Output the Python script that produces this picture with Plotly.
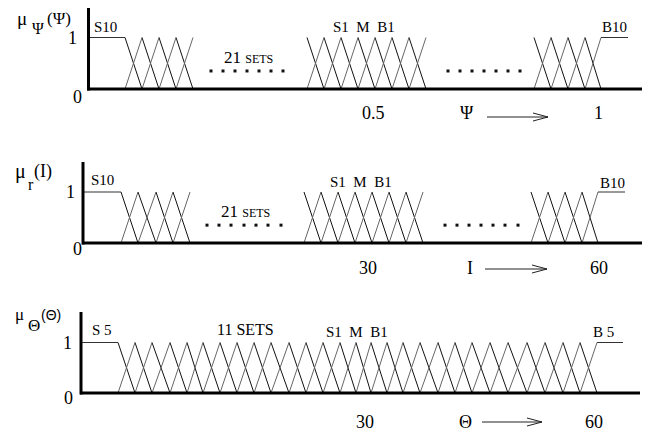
import plotly.graph_objects as go

W, H = 650, 436          # browser window
OFF = 8                  # default page margin around the plot div
FONT = "Liberation Serif, Times New Roman, serif"

# ---------------- data (x in diagram units, membership 0..1) ----------------
# vertices of the triangular partitions (peak of one set = foot of neighbours)
psi_left_vertices = [125, 142, 159, 176, 193]
psi_mid_vertices = [307, 324, 341, 358, 375, 392, 409, 426]
psi_right_vertices = [534, 551, 568, 585, 601]

cur_left_vertices = [121, 138, 156, 173, 190]
cur_mid_vertices = [304, 321, 338, 355, 372, 389, 406, 423]
cur_right_vertices = [531, 548, 565, 582, 598]

theta_vertices = [118, 135, 152, 170, 187, 203, 220, 237, 254, 271, 289, 306,
                  323, 340, 356, 371, 387, 403, 420, 438, 455, 472, 490, 508,
                  527, 545, 563, 580, 597]

# shoulder (saturated) sets: start of left plateau, end of right plateau
psi_shoulder_ends = [89, 628]
cur_shoulder_ends = [83, 625]
theta_shoulder_ends = [81, 623]

# "......" gap markers (x in diagram units, membership level)
psi_gap_dots_left = [211, 223, 235, 247, 259, 271, 283]
psi_gap_dots_right = [448, 460, 472, 484, 496, 508, 520]
cur_gap_dots_left = [207, 219, 231, 244, 256, 268, 281]
cur_gap_dots_right = [445, 457, 469, 481, 493, 505, 518]
gap_dot_level = 0.35

# labels
psi_set_labels = ["S10", "S1  M  B1", "B10"]
cur_set_labels = ["S10", "S1  M  B1", "B10"]
theta_set_labels = ["S 5", "S1  M  B1", "B 5"]
psi_tick_labels = ["0.5", "1"]
cur_tick_labels = ["30", "60"]
theta_tick_labels = ["30", "60"]
psi_tick_pos = [373, 598]
cur_tick_pos = [368, 599]
theta_tick_pos = [365, 594]
level_labels = ["1", "0"]

# ---------------- layout helpers ----------------
panels = [
    dict(ya="y", base=89, one=37.5, ax_x=88.5, ax_top=8, bx0=87, bx1=645),
    dict(ya="y2", base=243, one=192, ax_x=83, ax_top=162, bx0=82, bx1=643),
    dict(ya="y3", base=393, one=342.5, ax_x=81, ax_top=312, bx0=80, bx1=640),
]
FW, FH = W - OFF, H - OFF


def py(p):
    return 1 - (p - OFF) / FH


fig = go.Figure()


def add_group(vertices, ya, left_end=None, right_end=None):
    dx, dy, rx, ry = [], [], [], []
    for a, b in zip(vertices[:-1], vertices[1:]):
        dx += [a, b, None]
        dy += [1, 0, None]
        rx += [a, b, None]
        ry += [0, 1, None]
    fig.add_trace(go.Scatter(x=dx, y=dy, mode="lines", yaxis=ya,
                             line=dict(color="#111", width=1), hoverinfo="skip"))
    fig.add_trace(go.Scatter(x=rx, y=ry, mode="lines", yaxis=ya,
                             line=dict(color="#666", width=1), hoverinfo="skip"))
    px, pyv = [], []
    if left_end is not None:
        px += [left_end, vertices[0], None]
        pyv += [1, 1, None]
    if right_end is not None:
        px += [vertices[-1], right_end, None]
        pyv += [1, 1, None]
    if px:
        fig.add_trace(go.Scatter(x=px, y=pyv, mode="lines", yaxis=ya,
                                 line=dict(color="#333", width=1), hoverinfo="skip"))


def add_dots(xs, ya):
    fig.add_trace(go.Scatter(x=xs, y=[gap_dot_level] * len(xs), mode="markers", yaxis=ya,
                             marker=dict(symbol="square", size=3, color="#111",
                                         line=dict(width=0)),
                             hoverinfo="skip"))


add_group(psi_left_vertices, "y", left_end=psi_shoulder_ends[0])
add_group(psi_mid_vertices, "y")
add_group(psi_right_vertices, "y", right_end=psi_shoulder_ends[1])
add_group(cur_left_vertices, "y2", left_end=cur_shoulder_ends[0])
add_group(cur_mid_vertices, "y2")
add_group(cur_right_vertices, "y2", right_end=cur_shoulder_ends[1])
add_group(theta_vertices, "y3", left_end=theta_shoulder_ends[0],
          right_end=theta_shoulder_ends[1])
add_dots(psi_gap_dots_left, "y")
add_dots(psi_gap_dots_right, "y")
add_dots(cur_gap_dots_left, "y2")
add_dots(cur_gap_dots_right, "y2")

shapes = []
annotations = []


def ann(text, x, p, size, family=FONT):
    annotations.append(dict(text=text, x=x, y=py(p), xref="x", yref="paper",
                            showarrow=False, xanchor="center", yanchor="middle",
                            font=dict(family=family, size=size, color="black")))


def seg(x0, p0, x1, p1, width=1, color="#222"):
    shapes.append(dict(type="line", xref="x", yref="paper", x0=x0, x1=x1,
                       y0=py(p0), y1=py(p1), line=dict(color=color, width=width)))


def arrow(x0, x1, p):
    seg(x0, p, x1, p)
    seg(x1 - 15, p - 4, x1, p)
    seg(x1 - 15, p + 4, x1, p)


for pn in panels:
    seg(pn["ax_x"], pn["ax_top"], pn["ax_x"], pn["base"] + 1.5, width=3, color="black")
    seg(pn["bx0"], pn["base"], pn["bx1"], pn["base"], width=3, color="black")

# ---- panel 1 (psi) ----
ann("μ", 22, 19, 19)
ann("Ψ", 38, 28, 16)
ann("(Ψ)", 59, 19, 17)
ann(level_labels[0], 72, 38, 18)
ann(level_labels[1], 77, 97, 18)
ann(psi_set_labels[0], 105, 27, 15)
ann(psi_set_labels[1], 364, 27, 15)
ann(psi_set_labels[2], 614, 27, 15)
ann("21 <span style='font-size:12px'>SETS</span>", 248, 57, 17)
ann(psi_tick_labels[0], psi_tick_pos[0], 113, 18)
ann("Ψ", 467, 113, 18)
arrow(487, 548, 117)
ann(psi_tick_labels[1], psi_tick_pos[1], 113, 18)

# ---- panel 2 (I) ----
ann("μ", 20, 172, 20)
ann("r", 31, 184, 16)
ann("(I)", 43, 171, 18)
ann(level_labels[0], 70, 192, 18)
ann(level_labels[1], 77, 249, 18)
ann(cur_set_labels[0], 102, 180, 15)
ann(cur_set_labels[1], 361, 182, 15)
ann(cur_set_labels[2], 612, 183, 15)
ann("21 <span style='font-size:12px'>SETS</span>", 245, 212, 17)
ann(cur_tick_labels[0], cur_tick_pos[0], 268, 18)
ann("I", 470, 268, 18)
arrow(485, 547, 269)
ann(cur_tick_labels[1], cur_tick_pos[1], 268, 18)

# ---- panel 3 (theta) ----
ann("μ", 19, 314, 17)
ann("Θ", 34, 325, 17)
ann("(Θ)", 51, 315, 14, family="Liberation Sans, Arial, sans-serif")
ann(level_labels[0], 67, 343, 18)
ann(level_labels[1], 68, 398, 18)
ann(theta_set_labels[0], 102, 330, 15)
ann("11 SETS", 245, 329, 16)
ann(theta_set_labels[1], 357, 332, 15)
ann(theta_set_labels[2], 603, 332, 15)
ann(theta_tick_labels[0], theta_tick_pos[0], 422, 18)
ann("Θ", 465, 422, 18)
arrow(482, 542, 422)
ann(theta_tick_labels[1], theta_tick_pos[1], 422, 18)

layout = dict(
    width=FW, height=FH, margin=dict(l=0, r=0, t=0, b=0),
    paper_bgcolor="white", plot_bgcolor="white", showlegend=False,
    xaxis=dict(range=[OFF, W], domain=[0, 1], visible=False, fixedrange=True),
    shapes=shapes, annotations=annotations,
)
for i, pn in enumerate(panels):
    key = "yaxis" if i == 0 else f"yaxis{i + 1}"
    span = pn["base"] - pn["one"]
    ax = dict(range=[(pn["base"] - H) / span, (pn["base"] - OFF) / span],
              domain=[0, 1], visible=False, fixedrange=True)
    if i > 0:
        ax["overlaying"] = "y"
    layout[key] = ax
fig.update_layout(**layout)

fig.write_html("out.html")
